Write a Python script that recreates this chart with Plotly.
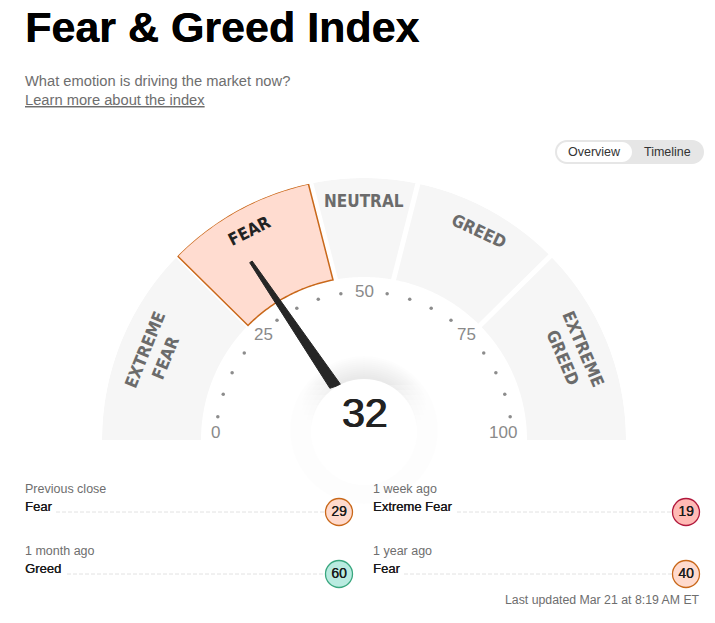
import numpy as np
import plotly.graph_objects as go

score = 32
band_names = ['EXTREME<br>FEAR', 'FEAR', 'NEUTRAL', 'GREED', 'EXTREME<br>GREED']
edges_inner = [0, 24.8, 44.4, 55.8, 75.2, 100]
edges_outer = [0, 24.8, 43.5, 56.6, 75.2, 100]
tick_labels = [0, 25, 50, 75, 100]
dot_values = [5, 10, 15, 20, 30, 35, 40, 45, 55, 60, 65, 70, 80, 85, 90, 95]

row_titles = ['Previous close', '1 month ago', '1 week ago', '1 year ago']
row_names = ['Fear', 'Greed', 'Extreme Fear', 'Fear']
row_values = [29, 60, 19, 40]

# page pixels, the cartesian axes below run 0-715 / 623-0
W, H = 715, 623
CX, CY = 364, 440
R_IN, R_OUT = 163, 262
GAP = 2.5

GREY = '#f6f6f6'
FONT = 'Liberation Sans'
NARROW = 'DejaVu Sans Condensed'
colors = {'Fear': ('#ffdacd', '#c9681a'), 'Greed': ('#b9ebe0', '#3aa77f'),
          'Extreme Fear': ('#ffbab5', '#b1183c')}


def is_active(i):
    return edges_inner[i] <= score < edges_inner[i + 1]


def band(i):
    # one slice of the gauge, the gap to the next slice stays the same in pixels
    def off(edge, r, sign):
        if edge in (0, 5) or (is_active(i) and sign > 0):
            return 0
        return sign * np.degrees(np.arcsin(GAP / r))
    a0 = edges_outer[i] * 1.8 + off(i, R_OUT, 1)
    a1 = edges_outer[i + 1] * 1.8 + off(i + 1, R_OUT, -1)
    b0 = edges_inner[i] * 1.8 + off(i, R_IN, 1)
    b1 = edges_inner[i + 1] * 1.8 + off(i + 1, R_IN, -1)
    th = np.concatenate([np.linspace(a0, a1, 50), np.linspace(b1, b0, 50), [a0]])
    r = np.concatenate([np.full(50, R_OUT), np.full(50, R_IN), [R_OUT]])
    return r, th


fig = go.Figure()

for i in range(5):
    r, th = band(i)
    active = is_active(i)
    fig.add_trace(go.Scatterpolar(
        r=r, theta=th, mode='lines', fill='toself',
        fillcolor='#ffdcd0' if active else GREY,
        line=dict(color='#c9681a' if active else GREY, width=1.5 if active else 0),
        hoverinfo='skip'))

fig.add_trace(go.Scatterpolar(
    r=[148] * len(dot_values), theta=[v * 1.8 for v in dot_values], mode='markers',
    marker=dict(size=3.5, color='#8c8c8c'), hoverinfo='skip'))

# needle
a = score * 1.8
fig.add_trace(go.Scatterpolar(
    r=[211, 211, 60, 62, 211], theta=[a - 0.4, a + 0.4, a + 9.6, a - 1.0, a - 0.4],
    mode='lines', fill='toself', fillcolor='#262626',
    line=dict(color='#262626', width=1), hoverinfo='skip'))

# badges at the bottom
fig.add_trace(go.Scatter(
    x=[339, 339, 686, 686], y=[512, 574, 512, 574], mode='markers+text',
    marker=dict(size=27, color=[colors[n][0] for n in row_names],
                line=dict(width=1.3, color=[colors[n][1] for n in row_names])),
    text=[str(v) for v in row_values], textposition='middle center',
    textfont=dict(family=FONT, size=14, color='#1a1a1a', shadow='0.3px 0 0 #1a1a1a'),
    hoverinfo='skip', cliponaxis=False))

fig.update_layout(
    width=W, height=H, margin=dict(l=0, r=0, t=0, b=0), showlegend=False,
    paper_bgcolor='white', plot_bgcolor='rgba(0,0,0,0)',
    xaxis=dict(range=[0, W], visible=False, fixedrange=True),
    yaxis=dict(range=[H, 0], visible=False, fixedrange=True),
    polar=dict(
        domain=dict(x=[(CX - R_OUT) / W, (CX + R_OUT) / W],
                    y=[(H - CY) / H, (H - CY + R_OUT) / H]),
        sector=[0, 180], bgcolor='rgba(0,0,0,0)',
        radialaxis=dict(range=[0, R_OUT], visible=False),
        angularaxis=dict(rotation=180, direction='clockwise', visible=False)))


def text(x, y, s, size, color='#6e6e6e', anchor='left', family=FONT, angle=0, shadow=None):
    font = dict(family=family, size=size, color=color)
    if shadow:
        font['shadow'] = shadow
    fig.add_annotation(x=x, y=y, xref='x', yref='y', text=s, showarrow=False, xanchor=anchor,
                       yanchor='middle', font=font, textangle=angle, align='center',
                       borderpad=0, borderwidth=0)


def pill(x0, x1, y0, y1):
    c = (y1 - y0) / 2
    k = c * 0.55
    ym = y0 + c
    return (f'M {x0 + c} {y0} L {x1 - c} {y0} '
            f'C {x1 - c + k} {y0} {x1} {ym - k} {x1} {ym} '
            f'C {x1} {ym + k} {x1 - c + k} {y1} {x1 - c} {y1} '
            f'L {x0 + c} {y1} '
            f'C {x0 + c - k} {y1} {x0} {ym + k} {x0} {ym} '
            f'C {x0} {ym - k} {x0 + c - k} {y0} {x0 + c} {y0} Z')


text(25, 27, '<b>Fear &amp; Greed Index</b>', 43, '#000000', shadow='0.4px 0 0 #000000')
text(25, 81, 'What emotion is driving the market now?', 14.7)
text(25, 100, '<u>Learn more about the index</u>', 14.7)

fig.add_shape(type='path', path=pill(555, 704, 140, 164), fillcolor='#e6e6e6', line_width=0)
fig.add_shape(type='path', path=pill(557, 632, 142, 162), fillcolor='white', line_width=0)
text(594, 152, 'Overview', 12.5, '#333333', 'center')
text(667, 152, 'Timeline', 12.5, '#333333', 'center')

# soft shadow under the centre disc, fading out towards the baseline
for rad in range(54, 76, 2):
    fig.add_shape(type='circle', x0=CX - rad, x1=CX + rad, y0=430 - rad, y1=430 + rad,
                  fillcolor='rgba(0,0,0,0.006)', line_width=0, layer='below')
for y0 in range(385, 440, 5):
    fig.add_shape(type='rect', x0=CX - 85, x1=CX + 85, y0=y0, y1=520,
                  fillcolor='rgba(255,255,255,0.25)', line_width=0, layer='below')
fig.add_shape(type='circle', x0=CX - 53, x1=CX + 53, y0=379, y1=485, fillcolor='white', line_width=0)
text(CX + 1, 413, str(score), 41, '#222222', 'center', shadow='0.8px 0 0 #222222, -0.6px 0 0 #222222')

# band names
label_x = [155, 249, 364, 479, 573]
label_y = [354, 231, 201, 231, 353]
label_angle = [-68, -27, 0, 25, 67]
for i, name in enumerate(band_names):
    text(label_x[i], label_y[i], f'<b>{name}</b>', 17, '#222222' if is_active(i) else '#6b6b6b',
         'center', NARROW, label_angle[i])

tick_x = [215, 263, 364, 466, 503]
tick_y = [432, 334, 291, 334, 432]
for x, y, v in zip(tick_x, tick_y, tick_labels):
    text(x, y, str(v), 17, '#8a8a8a', 'center')

# rows
title_x = [25, 25, 373, 373]
title_y = [489, 551, 489, 551]
name_y = [506.5, 568.5, 506.5, 568.5]
dash_start = [56, 67, 457, 404]
dash_end = [325, 325, 672, 672]
dash_y = [512, 574, 512, 574]
for i in range(4):
    text(title_x[i], title_y[i], row_titles[i], 12.5)
    text(title_x[i], name_y[i], row_names[i], 13, '#1a1a1a', shadow='0.3px 0 0 #1a1a1a')
    fig.add_shape(type='line', x0=dash_start[i], x1=dash_end[i], y0=dash_y[i], y1=dash_y[i],
                  line=dict(color='#e2e2e2', width=1, dash='4px,2px'))
text(700, 600, 'Last updated Mar 21 at 8:19 AM ET', 12.3, '#6e6e6e', 'right')

fig.write_html('out.html', config={'displayModeBar': False},
               post_script="document.body.style.margin='0';document.body.style.overflow='hidden';")
